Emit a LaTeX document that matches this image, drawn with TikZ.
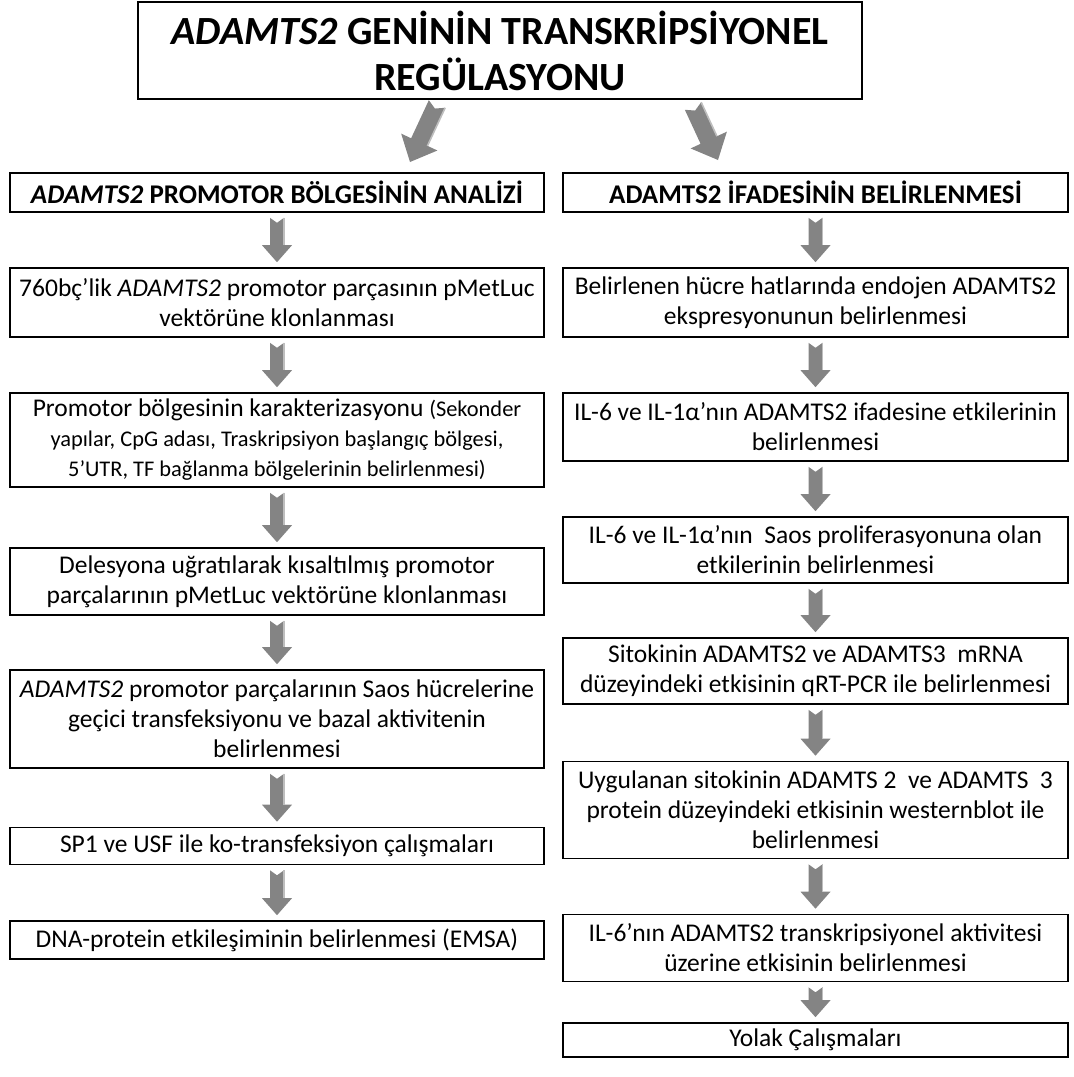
\documentclass[tikz,border=0pt]{standalone}
\usepackage{fontspec}
\setmainfont{Carlito}
\usetikzlibrary{calc}

\definecolor{arrowgray}{RGB}{132,132,132}
\definecolor{arrowlight}{RGB}{190,190,190}

\newcommand{\blockarrow}[5]{%
  \coordinate (fa) at (#1);
  \coordinate (fb) at (#2);
  \coordinate (fh) at ($(fb)!#5!(fa)$);
  \fill[arrowgray] ($(fa)!#3!90:(fb)$) -- ($(fa)!5pt!(fb)$) -- ($(fa)!#3!-90:(fb)$)
    -- ($(fh)!#3!-90:(fb)$) -- ($(fh)!#4!-90:(fb)$) -- (fb)
    -- ($(fh)!#4!90:(fb)$) -- ($(fh)!#3!90:(fb)$) -- cycle;
  \draw[arrowlight, line width=1.6pt] ($(fa)!#3!90:(fb)$) -- ($(fh)!#3!90:(fb)$);
}
\newcommand{\stepdown}[2]{%
  \blockarrow{$(#1.south)!5pt!(#2.north)$}{$(#2.north)!5pt!(#1.south)$}{7pt}{15pt}{17pt}}

\begin{document}
\begin{tikzpicture}[x=1pt,y=-1pt,
  box/.style={draw, line width=1.6pt, align=center, inner xsep=3pt, inner ysep=0pt,
    font=\fontsize{25.5}{30}\selectfont},
  lbox/.style={box, minimum width=534pt},
  rbox/.style={box, minimum width=505pt},
  head/.style={font=\fontsize{27}{30}\selectfont\bfseries, minimum height=39pt},
  small/.style={font=\fontsize{22.4}{30}\selectfont}]
\useasboundingbox (0,0) rectangle (1074,1077);

\node[draw, line width=1.6pt, align=center, minimum width=724pt, minimum height=97pt, inner sep=0pt,
  font=\fontsize{40}{46}\selectfont\bfseries] (title) at (500,50.5)
  {\textit{ADAMTS2} GENİNİN TRANSKRİPSİYONEL\\REGÜLASYONU};

\node[lbox, head] (lh) at (277,192.5) {\textit{ADAMTS2} PROMOTOR BÖLGESİNİN ANALİZİ};
\node[rbox, head] (rh) at (815.5,192.5) {ADAMTS2 İFADESİNİN BELİRLENMESİ};

\node[lbox, minimum height=69pt] (l1) at (277,302.5)
  {760bç’lik \textit{ADAMTS2} promotor parçasının pMetLuc\\vektörüne klonlanması};
\node[lbox, minimum height=94pt] (l2) at (277,440)
  {Promotor bölgesinin karakterizasyonu {\fontsize{22.4}{30}\selectfont(Sekonder}\\
  {\fontsize{22.4}{30}\selectfont yapılar, CpG adası, Traskripsiyon başlangıç bölgesi,}\\
  {\fontsize{22.4}{30}\selectfont 5’UTR, TF bağlanma bölgelerinin belirlenmesi)}};
\node[lbox, minimum height=67pt] (l3) at (277,581.5)
  {Delesyona uğratılarak kısaltılmış promotor\\parçalarının pMetLuc vektörüne klonlanması};
\node[lbox, minimum height=98pt] (l4) at (277,719)
  {\textit{ADAMTS2} promotor parçalarının Saos hücrelerine\\geçici transfeksiyonu ve bazal aktivitenin\\belirlenmesi};
\node[lbox, minimum height=37pt] (l5) at (277,846) {SP1 ve USF ile ko-transfeksiyon çalışmaları};
\node[lbox, minimum height=38pt] (l6) at (277,940) {DNA-protein etkileşiminin belirlenmesi (EMSA)};

\node[rbox, minimum height=69pt] (r1) at (815.5,302.5)
  {Belirlenen hücre hatlarında endojen ADAMTS2\\ekspresyonunun belirlenmesi};
\node[rbox, minimum height=68pt] (r2) at (815.5,427)
  {IL-6 ve IL-1α’nın ADAMTS2 ifadesine etkilerinin\\belirlenmesi};
\node[rbox, minimum height=66pt] (r3) at (815.5,550)
  {IL-6 ve IL-1α’nın\ \ Saos proliferasyonuna olan\\etkilerinin belirlenmesi};
\node[rbox, minimum height=66pt] (r4) at (815.5,671)
  {Sitokinin ADAMTS2 ve ADAMTS3\ \ mRNA\\düzeyindeki etkisinin qRT-PCR ile belirlenmesi};
\node[rbox, minimum height=97pt] (r5) at (815.5,810)
  {Uygulanan sitokinin ADAMTS 2\ \ ve ADAMTS\ \ 3\\protein düzeyindeki etkisinin westernblot ile\\belirlenmesi};
\node[rbox, minimum height=67pt] (r6) at (815.5,948)
  {IL-6’nın ADAMTS2 transkripsiyonel aktivitesi\\üzerine etkisinin belirlenmesi};
\node[rbox, minimum height=34pt] (r7) at (815.5,1040) {Yolak Çalışmaları};

\coordinate (ltail) at (437,104);
\coordinate (ltip) at (410,162);
\coordinate (rtail) at (693,106);
\coordinate (rtip) at (718,160);
\blockarrow{ltail}{ltip}{9pt}{20pt}{22pt}
\blockarrow{rtail}{rtip}{9pt}{20pt}{22pt}

\stepdown{lh}{l1}
\stepdown{l1}{l2}
\stepdown{l2}{l3}
\stepdown{l3}{l4}
\stepdown{l4}{l5}
\stepdown{l5}{l6}

\stepdown{rh}{r1}
\stepdown{r1}{r2}
\stepdown{r2}{r3}
\stepdown{r3}{r4}
\stepdown{r4}{r5}
\stepdown{r5}{r6}
\stepdown{r6}{r7}
\end{tikzpicture}
\end{document}
